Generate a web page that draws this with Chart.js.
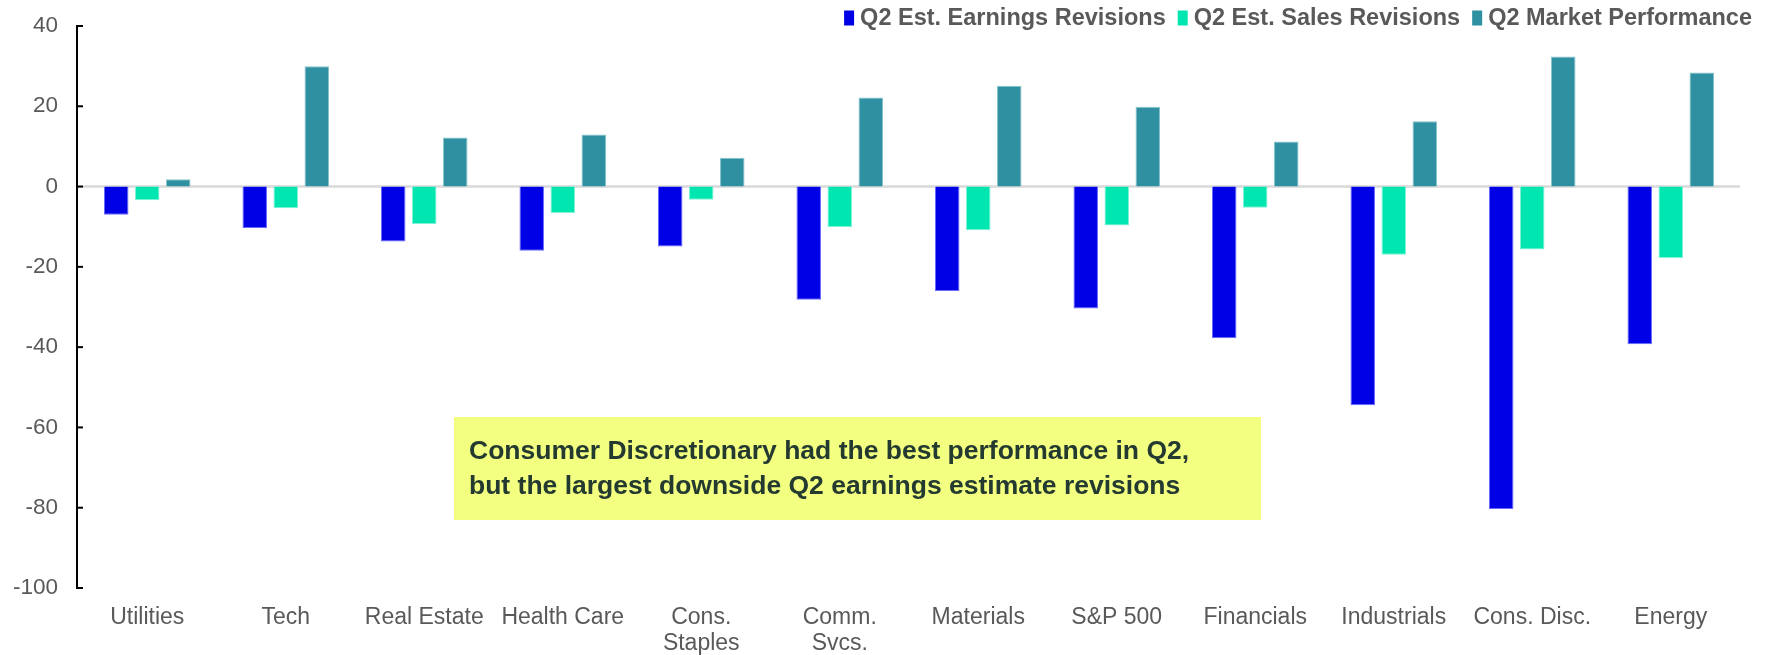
<!DOCTYPE html>
<html><head><meta charset="utf-8">
<script src="https://cdn.jsdelivr.net/npm/chart.js@4.4.1/dist/chart.umd.min.js"></script>
<style>html,body{margin:0;padding:0;background:#fff}#wrap{width:1784px;height:655px;position:relative}canvas{display:block}</style>
</head><body><div id="wrap"><canvas id="c" width="1784" height="655"></canvas></div>
<script>
const categories = ["Utilities", "Tech", "Real Estate", "Health Care", ["Cons.", "Staples"], ["Comm.", "Svcs."], "Materials", "S&P 500", "Financials", "Industrials", "Cons. Disc.", "Energy"];
const earningsRevisions = [-7.0, -10.4, -13.7, -16.0, -14.9, -28.2, -26.0, -30.4, -37.8, -54.5, -80.3, -39.3];
const salesRevisions = [-3.4, -5.4, -9.3, -6.6, -3.3, -10.1, -10.9, -9.7, -5.3, -17.0, -15.7, -17.8];
const marketPerformance = [1.8, 30.0, 12.2, 13.0, 7.2, 22.2, 25.1, 19.9, 11.2, 16.3, 32.4, 28.4];
const seriesNames = ["Q2 Est. Earnings Revisions", "Q2 Est. Sales Revisions", "Q2 Market Performance"];
const yMin = -100, yMax = 40, yStep = 20;
const noteLines = ["Consumer Discretionary had the best performance in Q2,", "but the largest downside Q2 earnings estimate revisions"];

const FONT = "'Liberation Sans', Arial, sans-serif";
const colors = ["#0000E6", "#00E6B0", "#2E90A0"];
const borders = ["#6a6aff", "#7ff2d6", "#86c3cc"];

function zeroPad(s) { s.paddingTop = 0; s.paddingBottom = 0; s.paddingLeft = 0; s.paddingRight = 0; }

const customDraw = {
  id: 'customDraw',
  beforeDatasetsDraw(chart) {
    const {ctx, chartArea, scales} = chart;
    const y0 = scales.y.getPixelForValue(0);
    ctx.save();
    ctx.strokeStyle = '#D9D9D9';
    ctx.lineWidth = 2.5;
    ctx.beginPath();
    ctx.moveTo(chartArea.left, y0);
    ctx.lineTo(chartArea.right, y0);
    ctx.stroke();
    ctx.restore();
  },
  afterDraw(chart) {
    const {ctx, chartArea, scales} = chart;
    const ys = scales.y;
    ctx.save();
    ctx.strokeStyle = '#000';
    ctx.lineWidth = 2;
    const ax = chartArea.left - 1;
    ctx.beginPath();
    ctx.moveTo(ax, ys.getPixelForValue(yMax));
    ctx.lineTo(ax, ys.getPixelForValue(yMin));
    ctx.stroke();
    for (let v = yMin; v <= yMax; v += yStep) {
      const py = ys.getPixelForValue(v);
      ctx.beginPath();
      ctx.moveTo(ax - 1, py);
      ctx.lineTo(ax + 6, py);
      ctx.stroke();
    }
    // legend
    ctx.font = "bold 23.5px " + FONT;
    ctx.textBaseline = 'middle';
    const boxW = 10, boxH = 15, gapBT = 6, gapItem = 12;
    const widths = seriesNames.map(s => ctx.measureText(s).width);
    let total = 0;
    widths.forEach((w, i) => { total += boxW + gapBT + w + (i < widths.length - 1 ? gapItem : 0); });
    let x = 1752 - total;
    const ly = 18;
    seriesNames.forEach((s, i) => {
      ctx.fillStyle = colors[i];
      ctx.fillRect(x, ly - boxH / 2, boxW, boxH);
      x += boxW + gapBT;
      ctx.fillStyle = '#595959';
      ctx.textAlign = 'left';
      ctx.fillText(s, x, ly + 1);
      x += widths[i] + gapItem;
    });
    // annotation box
    ctx.fillStyle = '#F2FF80';
    ctx.fillRect(454, 417, 807, 103);
    ctx.fillStyle = '#243A30';
    ctx.font = "bold 26.5px " + FONT;
    ctx.textAlign = 'left';
    ctx.fillText(noteLines[0], 469, 452);
    ctx.fillText(noteLines[1], 469, 487);
    ctx.restore();
  }
};

new Chart(document.getElementById('c'), {
  type: 'bar',
  data: {
    labels: categories,
    datasets: [earningsRevisions, salesRevisions, marketPerformance].map((d, i) => ({
      label: seriesNames[i],
      data: d,
      backgroundColor: colors[i],
      borderColor: borders[i],
      borderWidth: 1,
      categoryPercentage: 0.672,
      barPercentage: 0.79
    }))
  },
  options: {
    responsive: false,
    animation: false,
    devicePixelRatio: 1,
    layout: { autoPadding: false, padding: { top: 26, right: 44, left: 0, bottom: 0 } },
    plugins: { legend: { display: false }, tooltip: { enabled: false } },
    scales: {
      x: {
        grid: { display: false, drawTicks: false },
        border: { display: false },
        ticks: { color: '#595959', font: { family: FONT, size: 23, lineHeight: 1.15 }, padding: 16, maxRotation: 0, autoSkip: false },
        afterFit(s) { s.height = 67; zeroPad(s); }
      },
      y: {
        min: yMin, max: yMax,
        grid: { display: false, drawTicks: false },
        border: { display: false },
        ticks: { stepSize: yStep, color: '#595959', font: { family: FONT, size: 22.5 }, padding: 20 },
        afterFit(s) { s.width = 78; zeroPad(s); }
      }
    }
  },
  plugins: [customDraw]
});
</script></body></html>
